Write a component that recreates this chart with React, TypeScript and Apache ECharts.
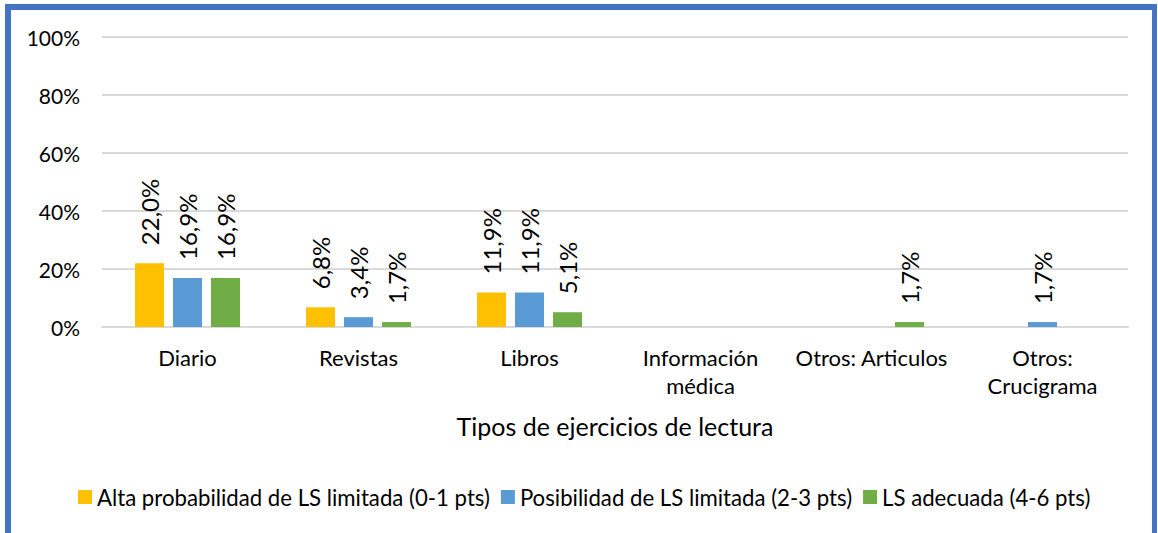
import React, { useEffect, useRef } from "react";
import * as echarts from "echarts";

const categories = [
  "Diario",
  "Revistas",
  "Libros",
  "Información\nmédica",
  "Otros: Articulos",
  "Otros:\nCrucigrama",
];
const seriesNames = [
  "Alta probabilidad de LS limitada (0-1 pts)",
  "Posibilidad de LS limitada (2-3 pts)",
  "LS adecuada (4-6 pts)",
];
const altaValues = [22.0, 6.8, 11.9, 0, 0, 0];
const posibilidadValues = [16.9, 3.4, 11.9, 0, 0, 1.7];
const adecuadaValues = [16.9, 1.7, 5.1, 0, 1.7, 0];
const colors = ["#FFC000", "#5B9BD5", "#70AD47"];
const yTicks = { min: 0, max: 100, interval: 20 };
const axisTitle = "Tipos de ejercicios de lectura";

const FONT = "Lato";

export default function App() {
  const ref = useRef<HTMLDivElement>(null);
  useEffect(() => {
    if (!ref.current) return;
    const chart = echarts.init(ref.current, null, { renderer: "svg" });
    const label = {
      show: true,
      position: "top",
      rotate: 90,
      align: "left",
      verticalAlign: "middle",
      distance: 18,
      fontFamily: FONT,
      fontSize: 24,
      color: "#000",
      formatter: (p: any) =>
        p.value > 0 ? p.value.toFixed(1).replace(".", ",") + "%" : "",
    };
    const data = [altaValues, posibilidadValues, adecuadaValues];
    chart.setOption({
      animation: false,
      backgroundColor: "#fff",
      grid: { left: 102, right: 30, top: 37, bottom: 206 },
      legend: {
        left: 73,
        top: 481,
        itemWidth: 14,
        itemHeight: 14,
        itemGap: 11,
        icon: "rect",
        textStyle: { fontFamily: FONT, fontSize: 22.2, color: "#000" },
        data: seriesNames,
      },
      xAxis: {
        type: "category",
        data: categories,
        axisLine: { show: true, lineStyle: { color: "#D9D9D9", width: 2 } },
        axisTick: { show: false },
        axisLabel: {
          interval: 0,
          margin: 16,
          fontFamily: FONT,
          fontSize: 22,
          lineHeight: 28,
          color: "#000",
        },
        name: axisTitle,
        nameLocation: "middle",
        nameGap: 85,
        nameTextStyle: { fontFamily: FONT, fontSize: 25, color: "#000", lineHeight: 28 },
      },
      yAxis: {
        type: "value",
        min: yTicks.min,
        max: yTicks.max,
        interval: yTicks.interval,
        axisLine: { show: false },
        axisTick: { show: false },
        axisLabel: {
          formatter: "{value}%",
          margin: 22,
          fontFamily: FONT,
          fontSize: 21,
          color: "#000",
        },
        splitLine: { lineStyle: { color: "#D9D9D9", width: 2 } },
      },
      graphic: [
        { type: "rect", shape: { x: 5, y: 4, width: 1152, height: 6 }, style: { fill: "#4472C4" } },
        { type: "rect", shape: { x: 5, y: 4, width: 6, height: 529 }, style: { fill: "#4472C4" } },
        { type: "rect", shape: { x: 1152, y: 4, width: 5, height: 529 }, style: { fill: "#4472C4" } },
      ],
      series: seriesNames.map((name, i) => ({
        name,
        type: "bar",
        data: data[i],
        barWidth: 29,
        barGap: "31%",
        itemStyle: { color: colors[i] },
        label,
      })),
    });
    return () => chart.dispose();
  }, []);
  return (
    <div
      ref={ref}
      style={{ position: "fixed", left: 0, top: 0, width: 1158, height: 533 }}
    />
  );
}
